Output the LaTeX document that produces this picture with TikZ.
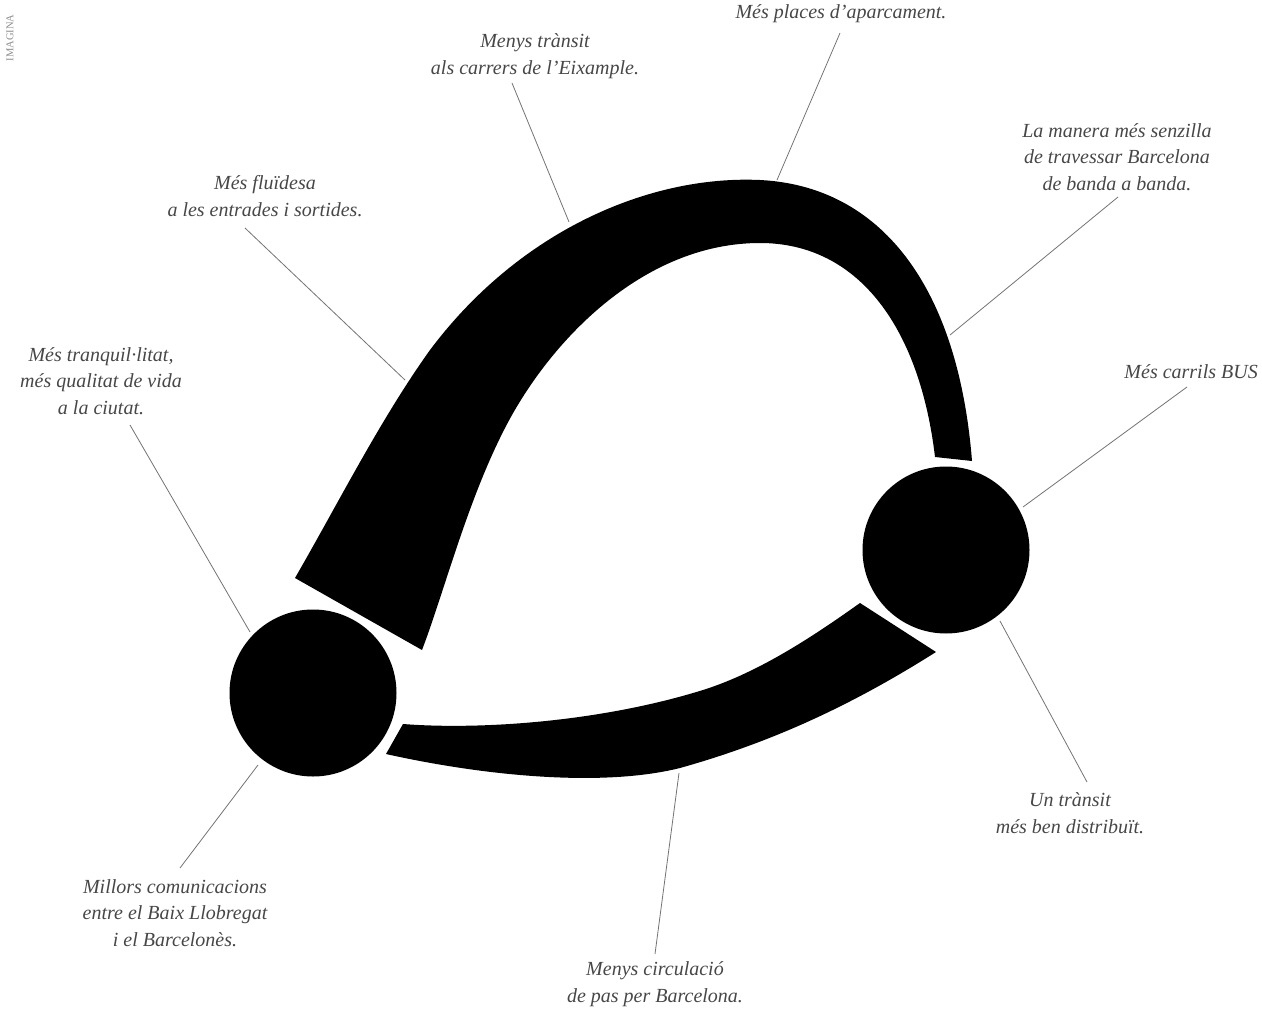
\documentclass[tikz,border=0pt]{standalone}
\usepackage{fontspec}
\setmainfont{Liberation Serif}
\begin{document}
\begin{tikzpicture}[x=1pt,y=-1pt,
  lbl/.style={font=\fontsize{20}{26.5}\selectfont\itshape, text=black!72, align=center, inner sep=0pt},
  leader/.style={draw=black!55, line width=0.8pt},
  disc/.style={circle, fill=black, minimum size=167pt, inner sep=0pt}]
\useasboundingbox (0,0) rectangle (1262,1009);
% vertical mark
\node[rotate=90, font=\fontsize{10.5}{12}\selectfont, text=black!45, inner sep=0pt] (imag) at (10,38) {IMAGINA};
% discs
\node[disc] (L) at (313,693) {};
\node[disc] (R) at (946,550) {};
% upper arch
\fill[black] (295,578) .. controls (340,500) and (380,420) .. (430,350)
  .. controls (520,230) and (650,175) .. (760,180)
  .. controls (880,186) and (958,285) .. (972,461)
  -- (935,457)
  .. controls (920,330) and (860,243) .. (760,243)
  .. controls (650,243) and (560,330) .. (512,415)
  .. controls (470,490) and (445,590) .. (422,650) -- cycle;
% lower band
\fill[black] (403,724) .. controls (480,730) and (600,722) .. (703,690)
  .. controls (760,672) and (815,635) .. (860,603)
  -- (936,652)
  .. controls (860,700) and (780,740) .. (680,768)
  .. controls (600,788) and (480,775) .. (386,754) -- cycle;
% shape anchor points
\coordinate (aPark) at (777,180);
\coordinate (aEix) at (569,222);
\coordinate (aFlu) at (405,380);
\coordinate (aTra) at (250,632);
\coordinate (aMan) at (950,335);
\coordinate (aBus) at (1023,507);
\coordinate (aDis) at (1000,621);
\coordinate (aCir) at (679,773);
\coordinate (aMil) at (258,765);
% labels
\node[lbl] (tPark) at (841,14) {Més places d'aparcament.};
\node[lbl] (tEix) at (535,56) {Menys trànsit\\als carrers de l'Eixample.};
\node[lbl] (tFlu) at (265,196) {Més fluïdesa\\a les entrades i sortides.};
\node[lbl] (tTra) at (101,381) {Més tranquil·litat,\\més qualitat de vida\\a la ciutat.};
\node[lbl] (tMan) at (1117,157) {La manera més senzilla\\de travessar Barcelona\\de banda a banda.};
\node[lbl, anchor=east] (tBus) at (1258,372) {Més carrils BUS};
\node[lbl] (tDis) at (1070,813) {Un trànsit\\més ben distribuït.};
\node[lbl] (tCir) at (655,984) {Menys circulació\\de pas per Barcelona.};
\node[lbl] (tMil) at (175,913) {Millors comunicacions\\entre el Baix Llobregat\\i el Barcelonès.};
% leaders
\coordinate (sPark) at (840,33);
\coordinate (sEix) at (512,83);
\coordinate (sFlu) at (245,228);
\coordinate (sTra) at (130,425);
\coordinate (sMan) at (1118,197);
\coordinate (sBus) at (1187,387);
\coordinate (sDis) at (1087,782);
\coordinate (sCir) at (655,954);
\coordinate (sMil) at (180,868);
\draw[leader] (sPark) -- (aPark);
\draw[leader] (sEix) -- (aEix);
\draw[leader] (sFlu) -- (aFlu);
\draw[leader] (sTra) -- (aTra);
\draw[leader] (sMan) -- (aMan);
\draw[leader] (sBus) -- (aBus);
\draw[leader] (sDis) -- (aDis);
\draw[leader] (sCir) -- (aCir);
\draw[leader] (sMil) -- (aMil);
\end{tikzpicture}
\end{document}
